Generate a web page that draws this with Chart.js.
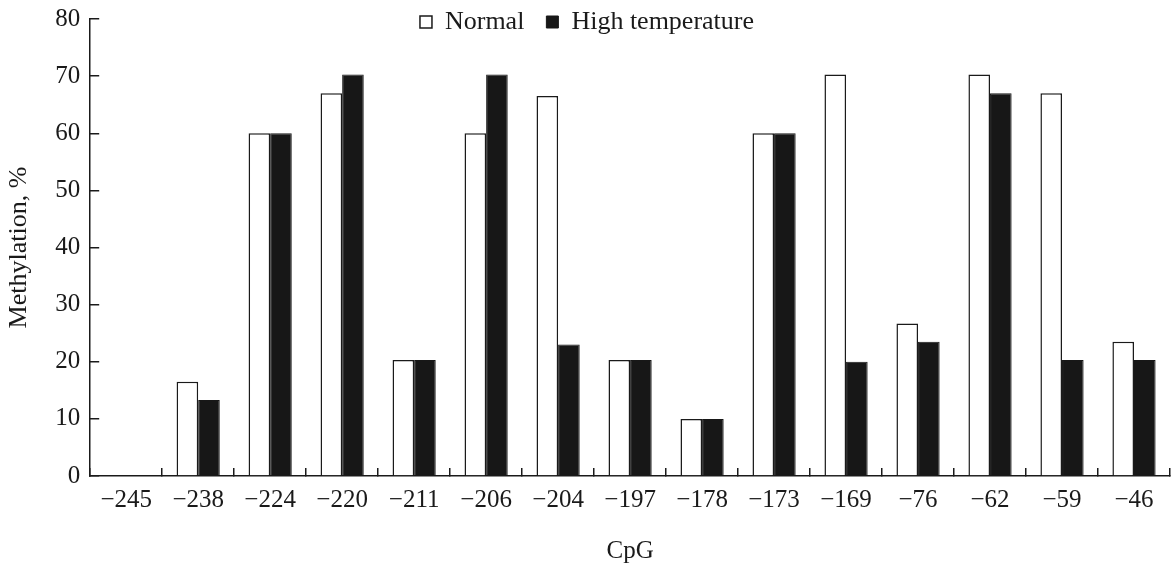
<!DOCTYPE html>
<html>
<head>
<meta charset="utf-8">
<script src="https://cdn.jsdelivr.net/npm/chart.js@4/dist/chart.umd.min.js"></script>
<style>
  html, body { margin: 0; padding: 0; background: #fff; }
  #wrap { width: 1172px; height: 569px; position: relative; }
</style>
</head>
<body>
<div id="wrap"><canvas id="c"></canvas></div>
<script>
const categories = ['\u2212245','\u2212238','\u2212224','\u2212220','\u2212211','\u2212206','\u2212204','\u2212197','\u2212178','\u2212173','\u2212169','\u221276','\u221262','\u221259','\u221246'];
const normalValues = [0, 16.5, 60, 67, 20.3, 60, 66.5, 20.3, 10, 60, 70.3, 26.7, 70.3, 67, 23.5];
const highTempValues = [0, 13.3, 60, 70.3, 20.3, 70.3, 23, 20.3, 10, 60, 20, 23.5, 67, 20.3, 20.3];
const seriesNames = ['Normal', 'High temperature'];
const yMin = 0, yMax = 80, yStep = 10;
const xTitle = 'CpG';
const yTitle = 'Methylation, %';

const FONT = "'Liberation Serif', 'Times New Roman', serif";
const INK = '#1a1a1a';

const legendShift = {
  id: 'legendShift',
  afterLayout(chart) {
    const lg = chart.legend;
    if (lg) { lg.top = -13; lg.bottom = 50; }
  }
};

new Chart(document.getElementById('c'), {
  type: 'bar',
  data: {
    labels: categories,
    datasets: [
      { label: seriesNames[0], data: normalValues, backgroundColor: '#ffffff', borderColor: INK, borderWidth: 1.5 },
      { label: seriesNames[1], data: highTempValues, backgroundColor: '#171717', borderColor: '#171717', borderWidth: 1 }
    ]
  },
  options: {
    responsive: true,
    maintainAspectRatio: false,
    animation: false,
    datasets: { bar: { categoryPercentage: 0.6, barPercentage: 1.0 } },
    layout: { padding: { left: 4, right: 2, top: 0, bottom: 0 } },
    plugins: {
      legend: {
        position: 'top',
        align: 'center',
        maxHeight: 19,
        labels: {
          font: { family: FONT, size: 26 },
          color: INK,
          boxWidth: 12,
          boxHeight: 12,
          padding: 22
        }
      },
      tooltip: { enabled: false }
    },
    scales: {
      x: {
        offset: true,
        afterFit(s) { s.paddingRight = 0; s.paddingLeft = 0; },
        grid: { offset: true, drawOnChartArea: false, drawTicks: true, tickLength: -8, color: INK, lineWidth: 1.5 },
        border: { display: true, color: INK, width: 1.5 },
        ticks: { font: { family: FONT, size: 25 }, color: INK, padding: 17, maxRotation: 0, autoSkip: false },
        title: { display: true, text: xTitle, font: { family: FONT, size: 25 }, color: INK, padding: { top: 4, bottom: 3 } }
      },
      y: {
        min: yMin, max: yMax,
        afterFit(s) { s.paddingTop = 14; },
        grid: { drawOnChartArea: false, drawTicks: true, tickLength: -9, color: INK, lineWidth: 1.5 },
        border: { display: true, color: INK, width: 1.5 },
        ticks: { stepSize: yStep, font: { family: FONT, size: 25 }, color: INK, padding: 19 },
        title: { display: true, text: yTitle, font: { family: FONT, size: 26 }, color: INK, padding: { top: 0, bottom: 1 } }
      }
    }
  },
  plugins: [legendShift]
});
</script>
</body>
</html>
